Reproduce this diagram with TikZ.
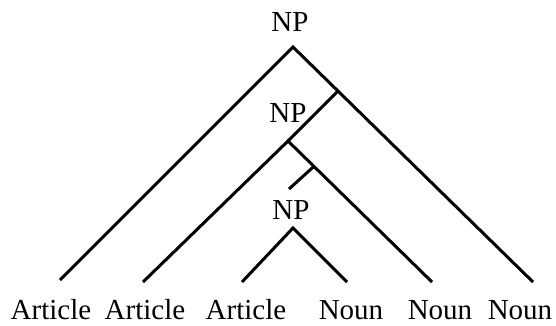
\documentclass[tikz,border=0pt]{standalone}
\usepackage{fontspec}
\setmainfont{Liberation Serif}
\usetikzlibrary{calc}
\begin{document}
\begin{tikzpicture}[x=1pt,y=-1pt,
  branch/.style={line width=3pt, line join=miter},
  lab/.style={anchor=base, inner sep=0pt, font=\fontsize{29}{29}\selectfont}]
\useasboundingbox (0,0) rectangle (556,325);
% labels
\node[lab] (np1) at (290,31) {NP};
\node[lab] (np2) at (288,122) {NP};
\node[lab] (np3) at (291,219) {NP};
\node[lab] (w1) at (51,319) {Article};
\node[lab] (w2) at (145,319) {Article};
\node[lab] (w3) at (246,319) {Article};
\node[lab] (w4) at (351,319) {Noun};
\node[lab] (w5) at (440,319) {Noun};
\node[lab] (w6) at (520,319) {Noun};
% tree points
\coordinate (a1) at (293,47);
\coordinate (a2) at (288,141);
\coordinate (a3) at (293,228);
\coordinate (t3) at (289,189);
\coordinate (l1) at (60,280);
\coordinate (l2) at (143,282);
\coordinate (l3) at (242,282);
\coordinate (l4) at (347,282);
\coordinate (l5) at (432,282);
\coordinate (l6) at (533,282);
\coordinate (b1) at ($(a1)!0.1875!(l6)$);
\coordinate (b2) at ($(a2)!0.18!(l5)$);
% branches
\draw[branch] (l1) -- (a1) -- (l6);
\draw[branch] (b1) -- (a2);
\draw[branch] (l2) -- (a2) -- (l5);
\draw[branch] (b2) -- (t3);
\draw[branch] (l3) -- (a3) -- (l4);
\end{tikzpicture}
\end{document}
